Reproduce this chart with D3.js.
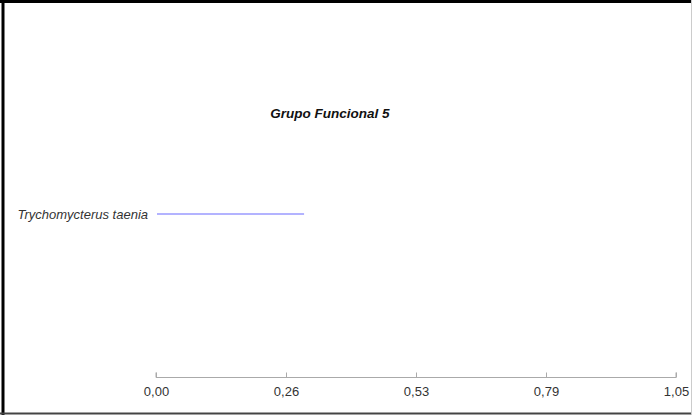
<!DOCTYPE html>
<html>
<head>
<meta charset="utf-8">
<script src="https://cdn.jsdelivr.net/npm/d3@7"></script>
<style>
  html, body { margin: 0; padding: 0; background: #fff; }
  svg { display: block; }
</style>
</head>
<body>
<div id="chart"></div>
<script>
const species = ["Trychomycterus taenia"];
const values = [0.299];
const tickValues = [0, 0.2625, 0.525, 0.7875, 1.05];
const title = "Grupo Funcional 5";

const W = 692, H = 415;
const font = "Arial, 'Liberation Sans', sans-serif";
const svg = d3.select("#chart").append("svg")
    .attr("width", W).attr("height", H);

// marco
svg.append("rect").attr("x", 0).attr("y", 0).attr("width", W).attr("height", H).attr("fill", "#fff");
svg.append("line").attr("x1", 0).attr("x2", W).attr("y1", 1.5).attr("y2", 1.5).attr("stroke", "#000").attr("stroke-width", 3);
svg.append("line").attr("x1", 3).attr("x2", 3).attr("y1", 0).attr("y2", H).attr("stroke", "#000").attr("stroke-width", 3);
svg.append("line").attr("x1", 0).attr("x2", W).attr("y1", 413.5).attr("y2", 413.5).attr("stroke", "#444").attr("stroke-width", 2);
svg.append("line").attr("x1", 691.5).attr("x2", 691.5).attr("y1", 0).attr("y2", H).attr("stroke", "#ccc").attr("stroke-width", 1);

const x = d3.scaleLinear().domain([0, 1.05]).range([156, 676]);
const y = d3.scalePoint().domain(species).range([214, 214]);

// eje x
const axis = svg.append("g")
    .attr("transform", "translate(0,377.5)")
    .call(d3.axisBottom(x).tickValues(tickValues).tickSize(-5).tickPadding(9)
        .tickFormat(d => d3.format(".2f")(d).replace(".", ",")));
axis.select(".domain").attr("stroke", "#aaa").attr("d", `M${x(0)},-5V0H${x(1.05)}V-5`);
axis.selectAll(".tick line").attr("stroke", "#aaa");
axis.selectAll(".tick text")
    .attr("fill", "#333")
    .style("font-family", font)
    .style("font-size", "13px");

// lineas
svg.selectAll(".bar")
    .data(species)
    .enter().append("line")
    .attr("x1", x(0) + 1)
    .attr("x2", (d, i) => x(values[i]))
    .attr("y1", d => y(d))
    .attr("y2", d => y(d))
    .attr("stroke", "#9a9aff")
    .attr("stroke-width", 1.5);

svg.selectAll(".lbl")
    .data(species)
    .enter().append("text")
    .attr("x", x(0) - 8)
    .attr("y", d => y(d))
    .attr("dy", "0.35em")
    .attr("text-anchor", "end")
    .attr("fill", "#333")
    .style("font-family", font)
    .style("font-style", "italic")
    .style("font-size", "13px")
    .text(d => d);

svg.append("text")
    .attr("x", 330).attr("y", 113)
    .attr("dy", "0.35em")
    .attr("text-anchor", "middle")
    .attr("fill", "#111")
    .style("font-family", font)
    .style("font-style", "italic")
    .style("font-weight", "bold")
    .style("font-size", "13.5px")
    .text(title);
</script>
</body>
</html>
